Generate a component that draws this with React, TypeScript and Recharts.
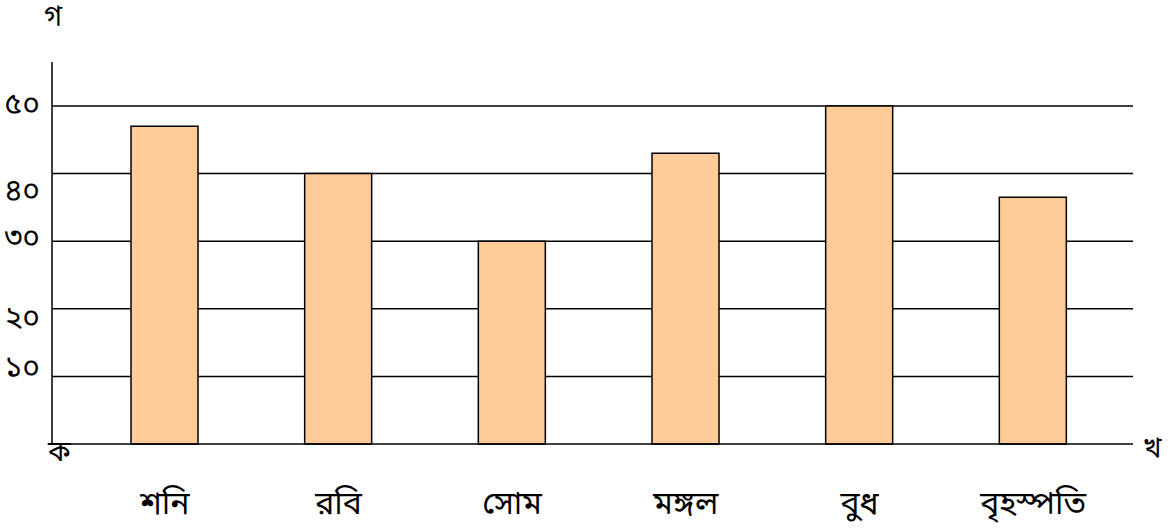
import React from "react";
import { Bar, BarChart, ReferenceLine, XAxis, YAxis } from "recharts";

const days = ["শনি", "রবি", "সোম", "মঙ্গল", "বুধ", "বৃহস্পতি"];
const values = [47, 40, 30, 43, 50, 36.5];
const yTicks = [10, 20, 30, 40, 50];
const yTickLabels = ["১০", "২০", "৩০", "৪০", "৫০"];

const data = days.map((day, i) => ({ day, value: values[i] }));

const FONT = "'Noto Sans Bengali', 'Noto Sans', 'DejaVu Sans', sans-serif";

// the labels in the source sit a little off their gridlines
const tickShift: Record<number, number> = { 10: -7, 20: 10, 30: -2, 40: 18, 50: 0 };

const YTick = (props: any) => {
  const { x, y, payload } = props;
  const idx = yTicks.indexOf(payload.value);
  return (
    <text
      x={x - 4}
      y={y + (tickShift[payload.value] ?? 0)}
      textAnchor="end"
      dominantBaseline="central"
      fontSize={30}
      fontFamily={FONT}
      fill="#000"
    >
      {yTickLabels[idx]}
    </text>
  );
};

const XTick = (props: any) => {
  const { x, y, payload } = props;
  return (
    <text
      x={x}
      y={y + 54}
      textAnchor="middle"
      dominantBaseline="central"
      fontSize={32}
      fontFamily={FONT}
      fill="#000"
    >
      {payload.value}
    </text>
  );
};

const corner: React.CSSProperties = {
  position: "absolute",
  fontFamily: FONT,
  fontSize: 28,
  lineHeight: "36px",
  color: "#000",
};

export default function App() {
  return (
    <div style={{ position: "absolute", left: 0, top: 0, width: 1175, height: 531, background: "#fff" }}>
      <BarChart
        width={1175}
        height={531}
        data={data}
        margin={{ top: 62, right: 42, bottom: 0, left: 0 }}
      >
        {yTicks.map((t) => (
          <ReferenceLine key={t} y={t} stroke="#000" strokeWidth={1.5} zIndex={0} />
        ))}
        <XAxis
          dataKey="day"
          height={87}
          padding={{ left: 26, right: 13 }}
          axisLine={{ stroke: "#000", strokeWidth: 1.5 }}
          tickLine={false}
          tick={<XTick />}
          interval={0}
        />
        <YAxis
          width={52}
          domain={[0, 56.5]}
          ticks={yTicks}
          axisLine={{ stroke: "#000", strokeWidth: 1.5 }}
          tickLine={false}
          tick={<YTick />}
          interval={0}
        />
        <Bar
          dataKey="value"
          barSize={67}
          fill="#FFCC99"
          stroke="#000"
          strokeWidth={1.5}
          isAnimationActive={false}
        />
      </BarChart>
      <span style={{ ...corner, left: 44, top: 0 }}>গ</span>
      <span style={{ ...corner, left: 48, top: 436 }}>ক</span>
      <span style={{ ...corner, left: 1143, top: 432 }}>খ</span>
    </div>
  );
}
